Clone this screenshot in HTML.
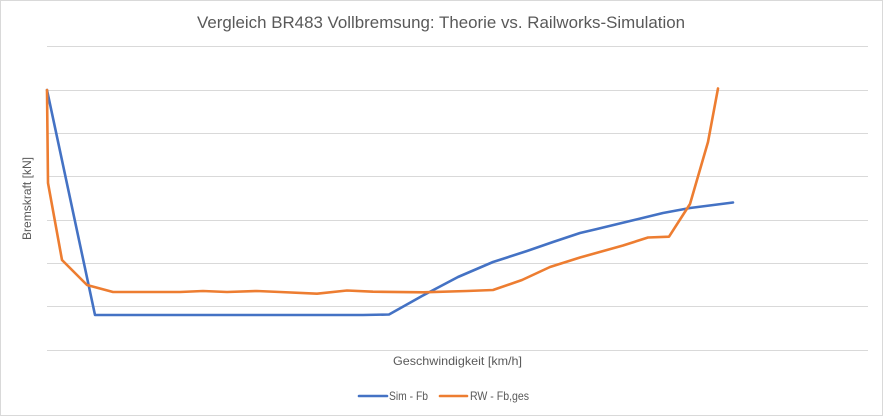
<!DOCTYPE html>
<html><head><meta charset="utf-8"><style>
html,body{margin:0;padding:0;background:#fff;}
svg{display:block;}
text{font-family:"Liberation Sans",sans-serif;fill:#595959;}
</style></head><body>
<svg width="883" height="416" viewBox="0 0 883 416" xmlns="http://www.w3.org/2000/svg">
<rect x="0.5" y="0.5" width="882" height="415" fill="#fff" stroke="#d9d9d9" stroke-width="1"/>
<text x="441" y="28" font-size="17" text-anchor="middle" textLength="488" lengthAdjust="spacingAndGlyphs">Vergleich BR483 Vollbremsung: Theorie vs. Railworks-Simulation</text>
<g stroke="#d9d9d9" stroke-width="1">
<line x1="47" y1="46.5" x2="868" y2="46.5"/>
<line x1="47" y1="90.5" x2="868" y2="90.5"/>
<line x1="47" y1="133.5" x2="868" y2="133.5"/>
<line x1="47" y1="176.5" x2="868" y2="176.5"/>
<line x1="47" y1="220.5" x2="868" y2="220.5"/>
<line x1="47" y1="263.5" x2="868" y2="263.5"/>
<line x1="47" y1="306.5" x2="868" y2="306.5"/>
<line x1="47" y1="350.5" x2="868" y2="350.5"/>
</g>
<text transform="translate(31,198.5) rotate(-90)" font-size="12" text-anchor="middle" textLength="83" lengthAdjust="spacingAndGlyphs">Bremskraft [kN]</text>
<text x="457.5" y="365" font-size="12" text-anchor="middle" textLength="129" lengthAdjust="spacingAndGlyphs">Geschwindigkeit [km/h]</text>
<polyline fill="none" stroke="#4472c4" stroke-width="2.6" stroke-linejoin="round" stroke-linecap="round"
points="47,90 95,315 363,315 389,314.5 422,296 458,277 493,262 527,251 553,242 580,233 597,229 630,221 663,213 690,208 733,202.5"/>
<polyline fill="none" stroke="#ed7d31" stroke-width="2.6" stroke-linejoin="round" stroke-linecap="round"
points="47,90 48,183 62,260 87,285 113,292 180,292 203,291 227,292 257,291 280,292 317,293.7 347,290.5 373,291.7 423,292.3 467,291 493,290 522,280 550,267 580,257.5 623,245.5 648,237.5 669,236.7 690,204 708,142 718,88.5"/>
<line x1="359" y1="396" x2="387" y2="396" stroke="#4472c4" stroke-width="2.6" stroke-linecap="round"/>
<text x="389" y="400" font-size="12" textLength="39" lengthAdjust="spacingAndGlyphs">Sim - Fb</text>
<line x1="440" y1="396" x2="467" y2="396" stroke="#ed7d31" stroke-width="2.6" stroke-linecap="round"/>
<text x="470" y="400" font-size="12" textLength="59" lengthAdjust="spacingAndGlyphs">RW - Fb,ges</text>
</svg>
</body></html>
